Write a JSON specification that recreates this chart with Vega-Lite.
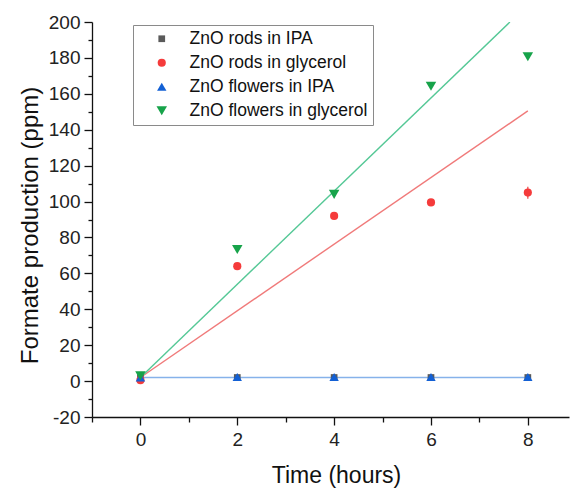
{
  "$schema": "https://vega.github.io/schema/vega-lite/v6.json",
  "width": 477,
  "height": 395,
  "autosize": {"type": "none"},
  "padding": {"left": 92, "top": 22, "right": 4, "bottom": 71},
  "background": "white",
  "config": {
    "view": {"stroke": null},
    "font": "Liberation Sans",
    "axis": {
      "domainColor": "#111",
      "domainWidth": 1.3,
      "tickColor": "#111",
      "tickWidth": 1.3,
      "labelColor": "#222",
      "titleColor": "#111",
      "labelFont": "Liberation Sans",
      "titleFont": "Liberation Sans",
      "titleFontWeight": "normal",
      "labelOverlap": false,
      "grid": false
    }
  },
  "datasets": {
    "points": [
      {"series": "ZnO rods in IPA", "x": 0, "y": 2},
      {"series": "ZnO rods in IPA", "x": 2, "y": 2},
      {"series": "ZnO rods in IPA", "x": 4, "y": 2},
      {"series": "ZnO rods in IPA", "x": 6, "y": 2},
      {"series": "ZnO rods in IPA", "x": 8, "y": 2},
      {"series": "ZnO rods in glycerol", "x": 0, "y": 0.5},
      {"series": "ZnO rods in glycerol", "x": 2, "y": 64},
      {"series": "ZnO rods in glycerol", "x": 4, "y": 92},
      {"series": "ZnO rods in glycerol", "x": 6, "y": 99.5},
      {"series": "ZnO rods in glycerol", "x": 8, "y": 105},
      {"series": "ZnO flowers in IPA", "x": 0, "y": 2},
      {"series": "ZnO flowers in IPA", "x": 2, "y": 2.3},
      {"series": "ZnO flowers in IPA", "x": 4, "y": 2.3},
      {"series": "ZnO flowers in IPA", "x": 6, "y": 2.3},
      {"series": "ZnO flowers in IPA", "x": 8, "y": 2.3},
      {"series": "ZnO flowers in glycerol", "x": 0, "y": 3},
      {"series": "ZnO flowers in glycerol", "x": 2, "y": 73.3},
      {"series": "ZnO flowers in glycerol", "x": 4, "y": 104},
      {"series": "ZnO flowers in glycerol", "x": 6, "y": 164.2},
      {"series": "ZnO flowers in glycerol", "x": 8, "y": 180.6}
    ],
    "fits": [
      {"fit": "IPA", "x": 0, "y": 2},
      {"fit": "IPA", "x": 8, "y": 2},
      {"fit": "rods glycerol", "x": 0, "y": 2},
      {"fit": "rods glycerol", "x": 8, "y": 150.5},
      {"fit": "flowers glycerol", "x": 0, "y": 2},
      {"fit": "flowers glycerol", "x": 7.63, "y": 200}
    ],
    "errors": [
      {"series": "ZnO rods in glycerol", "x": 8, "lo": 101.5, "hi": 108.3}
    ]
  },
  "layer": [
    {
      "data": {"name": "fits"},
      "mark": {"type": "line", "strokeWidth": 1.4, "clip": true},
      "encoding": {
        "x": {"field": "x", "type": "quantitative",
          "scale": {"domain": [-1, 8.85], "nice": false, "zero": false},
          "axis": {
            "values": [-1, 0, 1, 2, 3, 4, 5, 6, 7, 8],
            "tickCount": 40,
            "labelExpr": "datum.value % 2 === 0 ? toString(datum.value) : ''",
            "tickSize": {"condition": {"test": "datum.value % 2 === 0", "value": 8}, "value": 5},
            "labelFontSize": 19,
            "labelPadding": 5,
            "labelOverlap": false,
            "title": "Time (hours)",
            "titleFontSize": 23,
            "titleX": 244,
            "titleY": 65,
            "titleAlign": "center",
            "titleBaseline": "alphabetic"
          }
        },
        "y": {"field": "y", "type": "quantitative",
          "scale": {"domain": [-20, 200], "nice": false, "zero": false},
          "axis": {
            "values": [-20, -10, 0, 10, 20, 30, 40, 50, 60, 70, 80, 90, 100, 110, 120, 130, 140, 150, 160, 170, 180, 190, 200],
            "tickCount": 40,
            "labelExpr": "datum.value % 20 === 0 ? toString(datum.value) : ''",
            "tickSize": {"condition": {"test": "datum.value % 20 === 0", "value": 8}, "value": 4},
            "labelFontSize": 19,
            "labelPadding": 4,
            "labelOverlap": false,
            "labelFlush": false,
            "labelBound": false,
            "title": "Formate production (ppm)",
            "titleFontSize": 24,
            "titleAngle": -90,
            "titleX": -55,
            "titleY": 203,
            "titleAlign": "center",
            "titleBaseline": "alphabetic"
          }
        },
        "detail": {"field": "fit"},
        "stroke": {"field": "fit", "type": "nominal",
          "scale": {"domain": ["IPA", "rods glycerol", "flowers glycerol"], "range": ["#86b2ea", "#f07a7a", "#55c896"]},
          "legend": null}
      }
    },
    {
      "data": {"name": "errors"},
      "mark": {"type": "rule", "color": "#f04040", "strokeWidth": 1.2},
      "encoding": {
        "x": {"field": "x", "type": "quantitative"},
        "y": {"field": "lo", "type": "quantitative"},
        "y2": {"field": "hi"}
      }
    },
    {
      "data": {"name": "points"},
      "transform": [{"filter": "datum.series === 'ZnO rods in IPA'"}],
      "mark": {"type": "point", "filled": true, "opacity": 1},
      "encoding": {
        "x": {"field": "x", "type": "quantitative"},
        "y": {"field": "y", "type": "quantitative"},
        "color": {"field": "series", "type": "nominal"},
        "shape": {"field": "series", "type": "nominal"},
        "size": {"field": "series", "type": "nominal"}
      }
    },
    {
      "data": {"name": "points"},
      "transform": [{"filter": "datum.series !== 'ZnO rods in IPA'"}],
      "mark": {"type": "point", "filled": true, "opacity": 1},
      "encoding": {
        "x": {"field": "x", "type": "quantitative"},
        "y": {"field": "y", "type": "quantitative"},
        "color": {"field": "series", "type": "nominal",
          "scale": {"domain": ["ZnO rods in IPA", "ZnO rods in glycerol", "ZnO flowers in IPA", "ZnO flowers in glycerol"],
            "range": ["#5a5a5a", "#f53b3b", "#1360d4", "#17a34a"]},
          "legend": {
            "title": null,
            "orient": "none",
            "legendX": 41,
            "legendY": 3,
            "padding": 5,
            "strokeColor": "#8a8a8a",
            "fillColor": "white",
            "symbolOffset": 15,
            "labelOffset": 19,
            "labelFontSize": 17.5,
            "labelFont": "Liberation Sans",
            "labelColor": "#111",
            "rowPadding": 5,
            "labelLimit": 400
          }
        },
        "shape": {"field": "series", "type": "nominal",
          "scale": {"domain": ["ZnO rods in IPA", "ZnO rods in glycerol", "ZnO flowers in IPA", "ZnO flowers in glycerol"],
            "range": ["square", "circle", "triangle-up", "triangle-down"]}
        },
        "size": {"field": "series", "type": "nominal",
          "scale": {"domain": ["ZnO rods in IPA", "ZnO rods in glycerol", "ZnO flowers in IPA", "ZnO flowers in glycerol"],
            "range": [45, 110, 170, 160]}
        }
      }
    }
  ]
}
